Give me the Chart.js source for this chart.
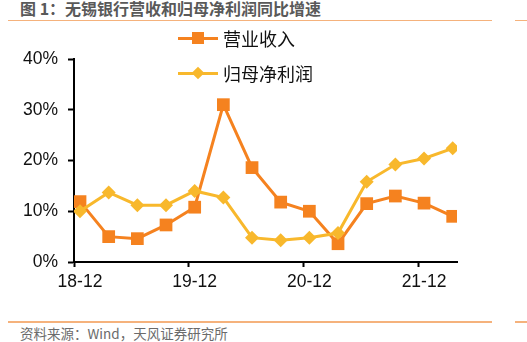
<!DOCTYPE html>
<html>
<head>
<meta charset="utf-8">
<script src="https://cdn.jsdelivr.net/npm/chart.js@4"></script>
<style>
  html, body { margin: 0; padding: 0; background: #fff; }
  body { width: 527px; height: 342px; position: relative; overflow: hidden; font-family: "Noto Sans CJK SC", sans-serif; }
  .title { position: absolute; left: 20px; top: -4px; font-size: 16px; font-weight: bold; color: #595959; white-space: nowrap; }
  .rule { position: absolute; height: 1.5px; background: #f5b27c; }
  .source { position: absolute; left: 20px; top: 323px; font-size: 13.5px; color: #6b6b6b; white-space: nowrap; }
  .legend { position: absolute; left: 178px; top: 20px; }
  .item { position: relative; height: 35px; display: flex; align-items: center; font-size: 18px; color: #111; }
  .mark { position: relative; width: 40px; height: 18px; margin-right: 5px; }
  .mark .ln { position: absolute; left: 0; right: 0; top: 8px; height: 3px; }
  .mark .pt { position: absolute; left: 14px; top: 3px; width: 12px; height: 12px; }
  .mark .dia { transform: rotate(45deg) scale(0.75); }
  #wrap { position: absolute; left: 0; top: 0; width: 527px; height: 342px; }
</style>
</head>
<body>
<div class="title">图 1：无锡银行营收和归母净利润同比增速</div>
<div class="rule" style="left:8px;width:484px;top:19.5px"></div>
<div class="rule" style="left:515px;width:12px;top:19.5px"></div>
<div class="rule" style="left:8px;width:484px;top:321px"></div>
<div class="rule" style="left:515px;width:12px;top:321px"></div>
<div class="source">资料来源：Wind，天风证券研究所</div>
<div id="wrap"><canvas id="chart"></canvas></div>
<div class="legend" id="legend"></div>
<script>
// 季度：18-12 … 22-03
const quarters = ["18-12", "19-03", "19-06", "19-09", "19-12", "20-03", "20-06", "20-09",
                  "20-12", "21-03", "21-06", "21-09", "21-12", "22-03"];
const revenueGrowth = [11.9, 5.0, 4.6, 7.3, 10.8, 31.0, 18.6, 11.8, 10.0, 3.6, 11.5, 13.0, 11.6, 9.0];
const profitGrowth = [10.0, 13.7, 11.2, 11.2, 14.0, 12.7, 4.8, 4.3, 4.8, 5.7, 15.8, 19.2, 20.4, 22.4];
const tickLabels = ["18-12", "19-12", "20-12", "21-12"];
const yTicks = [0, 10, 20, 30, 40];

const orange = "#f5821f";
const yellow = "#f8b82c";

const xLabelAt = {};
tickLabels.forEach((l) => { xLabelAt[quarters.indexOf(l)] = l; });

const chart = new Chart("chart", {
  type: "line",
  data: {
    datasets: [
      {
        label: "营业收入",
        data: revenueGrowth.map((v, i) => ({ x: i, y: v })),
        borderColor: orange,
        backgroundColor: orange,
        borderWidth: 3,
        pointStyle: "rect",
        pointRadius: 9,
        pointBorderWidth: 0,
        tension: 0,
        order: 2
      },
      {
        label: "归母净利润",
        data: profitGrowth.map((v, i) => ({ x: i, y: v })),
        borderColor: yellow,
        backgroundColor: yellow,
        borderWidth: 3,
        pointStyle: "rectRot",
        pointRadius: 7,
        pointBorderWidth: 0,
        tension: 0,
        order: 1
      }
    ]
  },
  options: {
    responsive: true,
    maintainAspectRatio: false,
    animation: false,
    layout: { padding: { left: 0, top: 59, right: 70, bottom: 50 } },
    plugins: {
      legend: { display: false },
      tooltip: { enabled: false }
    },
    scales: {
      x: {
        type: "linear",
        min: -0.21,
        max: 13.15,
        afterBuildTicks: (s) => {
          s.ticks = Object.keys(xLabelAt).map((k) => ({ value: Number(k) - 0.21 }));
        },
        afterFit: (s) => { s.height = 30; },
        border: { color: "#000", width: 2 },
        grid: { drawOnChartArea: false, drawTicks: true, tickLength: 5, tickColor: "#000", tickWidth: 2 },
        ticks: {
          autoSkip: false,
          maxRotation: 0,
          padding: 5,
          labelOffset: 6,
          color: "#111",
          font: { family: "Liberation Sans", size: 17.5 },
          callback: (v) => xLabelAt[Math.round(v + 0.21)] || ""
        }
      },
      y: {
        min: 0,
        max: 40,
        afterBuildTicks: (s) => { s.ticks = yTicks.map((v) => ({ value: v })); },
        afterFit: (s) => { s.width = 74; },
        border: { color: "#000", width: 2 },
        grid: { drawOnChartArea: false, drawTicks: true, tickLength: 6, tickColor: "#000", tickWidth: 2 },
        ticks: {
          padding: 10,
          color: "#111",
          font: { family: "Liberation Sans", size: 17.5 },
          callback: (v) => v + "%"
        }
      }
    }
  }
});

// 图例（竖排）
const legendEl = document.getElementById("legend");
chart.data.datasets.forEach((ds) => {
  const item = document.createElement("div");
  item.className = "item";
  const diamond = ds.pointStyle === "rectRot";
  item.innerHTML =
    '<div class="mark"><div class="ln" style="background:' + ds.borderColor + '"></div>' +
    '<div class="pt' + (diamond ? " dia" : "") + '" style="background:' + ds.backgroundColor + '"></div></div>' +
    "<span>" + ds.label + "</span>";
  legendEl.appendChild(item);
});
</script>
</body>
</html>
